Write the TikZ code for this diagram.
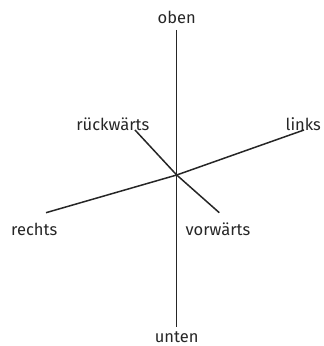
\documentclass[tikz,border=0pt]{standalone}
\usepackage{fontspec}
\setmainfont{Fira Sans}
\usetikzlibrary{positioning}

\begin{document}
\begin{tikzpicture}[
		x=1pt, y=1pt,
		axis/.style={draw=black!85, line width=1.5pt},
		word/.style={font=\fontsize{16.5}{19}\selectfont, text=black!85, inner sep=0pt, anchor=base}
		]
		
		% frame of the picture
		\useasboundingbox (0,0) rectangle (324,346);
		
		% 1. Center and end points of the axes
		\coordinate (C) at (176.7,171);
		\coordinate (top) at (176.7,316);
		\coordinate (bottom) at (176.7,19.3);
		\coordinate (L) at (304,216);
		\coordinate (R) at (46,133.3);
		\coordinate (back) at (135,216);
		\coordinate (front) at (219.3,133.3);
		
		% 2. Labels (placed on their baselines)
		\node[word] (oben) at (176.7,322.7) {oben};
		\node[word] (unten) at (176.7,3) {unten};
		\node[word] (links) at (303.3,215) {links};
		\node[word] (rechts) at (34.2,110) {rechts};
		\node[word] (rueck) at (112.8,215) {rückwärts};
		\node[word] (vor) at (218,110) {vorwärts};
		
		% 3. Axes through the center
		\draw[axis] (top) -- (bottom);
		\draw[axis] (R) -- (C) -- (L);
		\draw[axis] (back) -- (C) -- (front);
		
	\end{tikzpicture}
\end{document}
